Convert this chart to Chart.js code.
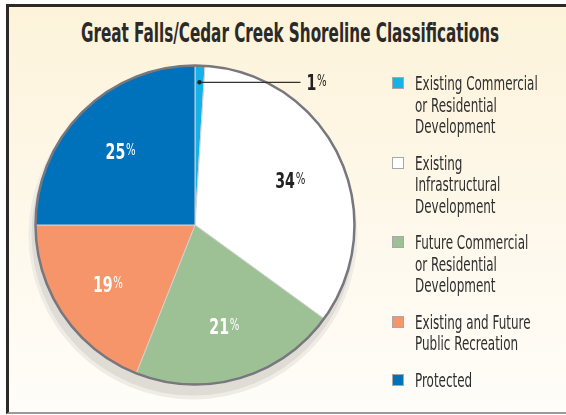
<!DOCTYPE html>
<html>
<head>
<meta charset="utf-8">
<script src="https://cdn.jsdelivr.net/npm/chart.js@4.4.1/dist/chart.umd.min.js"></script>
<style>
  html, body { margin: 0; padding: 0; background: #ffffff; }
  body { width: 566px; height: 415px; position: relative; overflow: hidden; font-family: "DejaVu Sans Condensed", "Liberation Sans Narrow", sans-serif; }
  #frame {
    position: absolute; left: 6px; top: 4px; width: 563px; height: 405px;
    border-left: 3px solid #2b2a28; border-top: 3px solid #2b2a28; border-bottom: 2px solid #9a9a9a;
    background: linear-gradient(to bottom, #fdf3da 0%, #fef8ea 50%, #fffdf9 100%);
  }
  #title {
    position: absolute; left: 290px; top: 18px; white-space: nowrap;
    font-weight: bold; font-size: 26px; color: #2b2a28;
    transform: translateX(-50%) scaleX(0.65); transform-origin: center;
  }
  #chart { position: absolute; left: 0; top: 0; }
  #legend { position: absolute; left: 392px; top: 73px; }
  .item { position: relative; margin-bottom: 15px; }
  .box { position: absolute; left: 0; top: 4px; width: 10px; height: 10px; border: 1px solid #a8a8a8; }
  .txt { margin-left: 23px; font-size: 19px; line-height: 21.5px; color: #2e2e2e; white-space: nowrap;
         transform: scaleX(0.7); transform-origin: left top; }
</style>
</head>
<body>
<div id="frame"></div>
<div id="title"></div>
<canvas id="chart" width="566" height="415"></canvas>
<div id="legend"></div>
<script>
const titleText = "Great Falls/Cedar Creek Shoreline Classifications";
const categories = [
  ["Existing Commercial", "or Residential", "Development"],
  ["Existing", "Infrastructural", "Development"],
  ["Future Commercial", "or Residential", "Development"],
  ["Existing and Future", "Public Recreation"],
  ["Protected"]
];
const shares = [1, 34, 21, 19, 25];
const sliceColors = ["#16b1e9", "#ffffff", "#9dc194", "#f6956a", "#0071bb"];
const labelColors = ["#222222", "#222222", "#ffffff", "#ffffff", "#ffffff"];

document.getElementById("title").textContent = titleText;

// legend with multi-line labels
const legend = document.getElementById("legend");
categories.forEach((lines, i) => {
  const item = document.createElement("div");
  item.className = "item";
  const box = document.createElement("div");
  box.className = "box";
  box.style.background = sliceColors[i];
  const txt = document.createElement("div");
  txt.className = "txt";
  txt.innerHTML = lines.join("<br>");
  item.appendChild(box);
  item.appendChild(txt);
  legend.appendChild(item);
});

const labelFont = '"DejaVu Sans Condensed", "Liberation Sans Narrow", sans-serif';

function drawPct(ctx, value, x, y, color, align) {
  ctx.save();
  ctx.fillStyle = color;
  ctx.textBaseline = "alphabetic";
  ctx.translate(x, y);
  ctx.scale(0.75, 1);
  ctx.font = "bold 21px " + labelFont;
  const num = String(value);
  const wNum = ctx.measureText(num).width;
  ctx.font = "15px " + labelFont;
  const wPct = ctx.measureText("%").width;
  let x0 = align === "left" ? 0 : -(wNum + wPct + 1) / 2;
  ctx.font = "bold 21px " + labelFont;
  ctx.fillText(num, x0, 8);
  ctx.font = "15px " + labelFont;
  ctx.fillText("%", x0 + wNum + 1, 4);
  ctx.restore();
}

// shadow under the pie, outer rim and value labels
const pieDecor = {
  id: "pieDecor",
  beforeDatasetsDraw(chart) {
    const arc = chart.getDatasetMeta(0).data[0];
    const { x, y, outerRadius } = arc.getProps(["x", "y", "outerRadius"], true);
    const ctx = chart.ctx;
    ctx.save();
    ctx.fillStyle = "#efece5";
    ctx.beginPath();
    ctx.arc(x - 2, y + 10, outerRadius + 5, 0, Math.PI * 2);
    ctx.fill();
    ctx.fillStyle = "#dfdcd5";
    ctx.beginPath();
    ctx.arc(x - 2, y + 9, outerRadius + 2, 0, Math.PI * 2);
    ctx.fill();
    ctx.restore();
  },
  afterDatasetsDraw(chart) {
    const meta = chart.getDatasetMeta(0);
    const ctx = chart.ctx;
    const first = meta.data[0].getProps(["x", "y", "outerRadius"], true);
    ctx.save();
    ctx.strokeStyle = "#77777d";
    ctx.lineWidth = 2.5;
    ctx.beginPath();
    ctx.arc(first.x, first.y, first.outerRadius, 0, Math.PI * 2);
    ctx.stroke();
    ctx.restore();

    meta.data.forEach((el, i) => {
      const p = el.getProps(["x", "y", "startAngle", "endAngle", "outerRadius"], true);
      const mid = (p.startAngle + p.endAngle) / 2;
      if (shares[i] < 5) {
        const r = p.outerRadius * 0.895;
        const dx = p.x + Math.cos(mid) * r;
        const dy = p.y + Math.sin(mid) * r;
        ctx.save();
        ctx.strokeStyle = "#333333";
        ctx.fillStyle = "#222222";
        ctx.lineWidth = 1.2;
        ctx.beginPath();
        ctx.moveTo(dx, dy);
        ctx.lineTo(dx + 101, dy);
        ctx.stroke();
        ctx.beginPath();
        ctx.arc(dx, dy, 2.2, 0, Math.PI * 2);
        ctx.fill();
        ctx.restore();
        drawPct(ctx, shares[i], dx + 107, dy, labelColors[i], "left");
      } else {
        const r = p.outerRadius * 0.66;
        drawPct(ctx, shares[i], p.x + Math.cos(mid) * r, p.y + Math.sin(mid) * r, labelColors[i], "center");
      }
    });
  }
};

new Chart(document.getElementById("chart"), {
  type: "pie",
  data: {
    labels: categories.map((l) => l.join(" ")),
    datasets: [{
      data: shares,
      backgroundColor: sliceColors,
      borderColor: "#d2d2d2",
      borderWidth: 1
    }]
  },
  options: {
    responsive: false,
    animation: false,
    layout: { padding: { left: 35, right: 211, top: 64, bottom: 29 } },
    plugins: {
      legend: { display: false },
      title: { display: false },
      tooltip: { enabled: false }
    }
  },
  plugins: [pieDecor]
});
</script>
</body>
</html>
